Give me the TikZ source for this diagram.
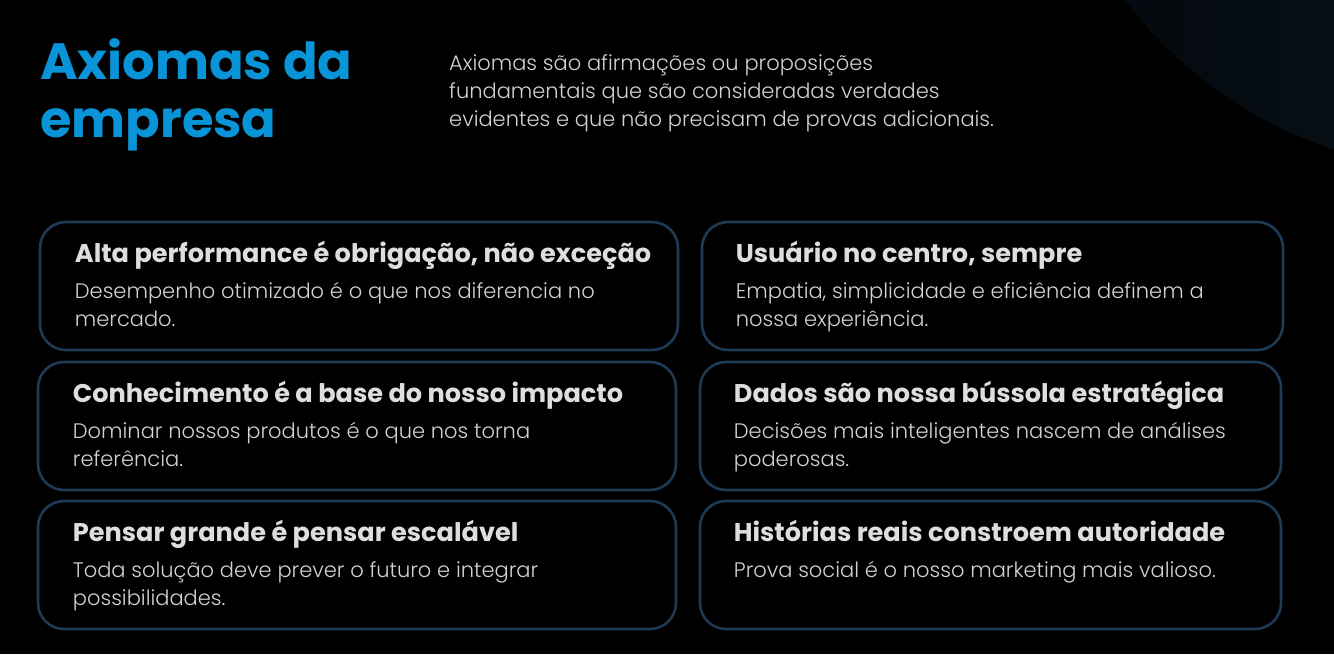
\documentclass[tikz,border=0pt]{standalone}
\usepackage{fontspec}
\setmainfont{Poppins}
\newfontfamily\poplight{Poppins Light}
\definecolor{axblue}{HTML}{0A94D8}
\definecolor{cardedge}{HTML}{1D3A56}
\definecolor{headgray}{HTML}{DEDEDE}
\definecolor{bodygray}{HTML}{D2D2D2}
\definecolor{glowleft}{HTML}{03080C}
\definecolor{glowright}{HTML}{0C1923}
\tikzset{
  card/.style={draw=cardedge, line width=2.6pt, rounded corners=26pt,
    minimum width=#1, minimum height=128pt, inner sep=0pt},
  cardhead/.style={anchor=base west, inner sep=0pt, text=headgray,
    font=\bfseries\fontsize{25.6}{28}\selectfont},
  cardbody/.style={anchor=base west, inner sep=0pt, text=bodygray, align=left,
    font=\poplight\fontsize{21}{28}\selectfont},
}
\begin{document}
\begin{tikzpicture}[x=1pt, y=-1pt]
    \useasboundingbox (0,0) rectangle (1334,654);
    \fill[black] (0,0) rectangle (1334,654);
    \begin{scope}
    \clip (0,0) rectangle (1334,654);
    \shade[left color=glowleft, right color=glowright] (1465,-255) circle (425);
    \end{scope}
    \node[anchor=base west, inner sep=0pt, text=axblue, align=left,
      font=\bfseries\fontsize{51}{58}\selectfont] (maintitle) at (40,137) {Axiomas da\\empresa};
    \node[anchor=base west, inner sep=0pt, text=bodygray, align=left,
      font=\poplight\fontsize{21}{28}\selectfont] (intro) at (449,126)
      {Axiomas são afirmações ou proposições\\fundamentais que são consideradas verdades\\evidentes e que não precisam de provas adicionais.};
    \node[card=638pt] (l1) at (359,286) {};
    \node[cardhead] (l1head) at ([shift={(36,42)}]l1.north west) {Alta performance é obrigação, não exceção};
    \node[cardbody] (l1body) at ([shift={(36,106)}]l1.north west) {Desempenho otimizado é o que nos diferencia no\\mercado.};
    \node[card=638pt] (l2) at (357,426) {};
    \node[cardhead] (l2head) at ([shift={(36,42)}]l2.north west) {Conhecimento é a base do nosso impacto};
    \node[cardbody] (l2body) at ([shift={(36,106)}]l2.north west) {Dominar nossos produtos é o que nos torna\\referência.};
    \node[card=638pt] (l3) at (357,565) {};
    \node[cardhead] (l3head) at ([shift={(36,42)}]l3.north west) {Pensar grande é pensar escalável};
    \node[cardbody] (l3body) at ([shift={(36,106)}]l3.north west) {Toda solução deve prever o futuro e integrar\\possibilidades.};
    \node[card=581pt] (r1) at (992.5,286) {};
    \node[cardhead] (r1head) at ([shift={(35,42)}]r1.north west) {Usuário no centro, sempre};
    \node[cardbody] (r1body) at ([shift={(35,106)}]r1.north west) {Empatia, simplicidade e eficiência definem a\\nossa experiência.};
    \node[card=581pt] (r2) at (990.5,426) {};
    \node[cardhead] (r2head) at ([shift={(35,42)}]r2.north west) {Dados são nossa bússola estratégica};
    \node[cardbody] (r2body) at ([shift={(35,106)}]r2.north west) {Decisões mais inteligentes nascem de análises\\poderosas.};
    \node[card=581pt] (r3) at (990.5,565) {};
    \node[cardhead] (r3head) at ([shift={(35,42)}]r3.north west) {Histórias reais constroem autoridade};
    \node[cardbody] (r3body) at ([shift={(35,78)}]r3.north west) {Prova social é o nosso marketing mais valioso.};
\end{tikzpicture}
\end{document}
